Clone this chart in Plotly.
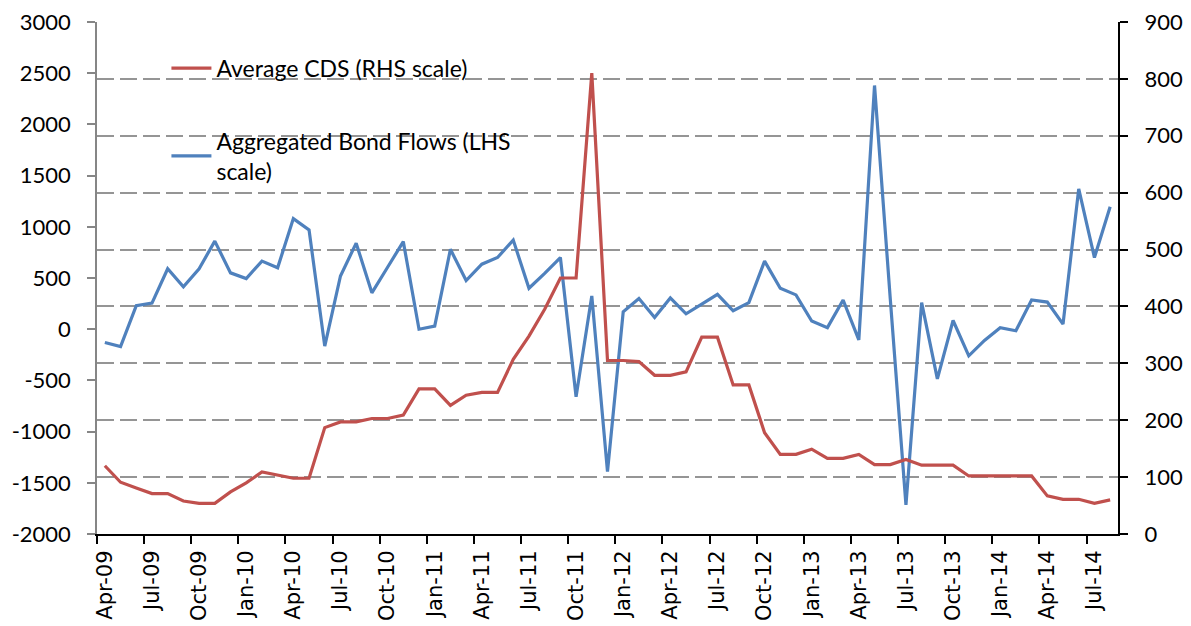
import plotly.graph_objects as go

months = ["Apr-09","May-09","Jun-09","Jul-09","Aug-09","Sep-09","Oct-09","Nov-09","Dec-09",
          "Jan-10","Feb-10","Mar-10","Apr-10","May-10","Jun-10","Jul-10","Aug-10","Sep-10","Oct-10","Nov-10","Dec-10",
          "Jan-11","Feb-11","Mar-11","Apr-11","May-11","Jun-11","Jul-11","Aug-11","Sep-11","Oct-11","Nov-11","Dec-11",
          "Jan-12","Feb-12","Mar-12","Apr-12","May-12","Jun-12","Jul-12","Aug-12","Sep-12","Oct-12","Nov-12","Dec-12",
          "Jan-13","Feb-13","Mar-13","Apr-13","May-13","Jun-13","Jul-13","Aug-13","Sep-13","Oct-13","Nov-13","Dec-13",
          "Jan-14","Feb-14","Mar-14","Apr-14","May-14","Jun-14","Jul-14","Aug-14"]

bond_flows = [-130, -170, 230, 255, 590, 415, 590, 860, 550, 495, 665, 600, 1080, 970, -165, 520,
              840, 355, 605, 855, 0, 30, 780, 475, 635, 700, 870, 400, 545, 700, -660,
              325, -1390, 170, 300, 115, 305, 150, 245, 340, 180, 260, 665, 400, 335, 80,
              15, 285, -105, 2380, 300, -1715, 260, -485, 85, -260, -110, 15, -15, 285, 265,
              50, 1370, 700, 1195]

avg_cds = [120, 91, 81, 71, 71, 58, 54, 54, 74, 90, 109, 103, 98, 98, 187, 197,
           197, 203, 203, 209, 255, 255, 226, 244, 249, 249, 307, 348, 395, 450, 450,
           810, 305, 305, 303, 279, 279, 285, 346, 346, 262, 262, 178, 140, 140, 149,
           133, 133, 140, 122, 122, 131, 121, 121, 121, 102, 102, 102, 102, 102, 67,
           61, 61, 54, 60]

lhs_ticks = [-2000, -1500, -1000, -500, 0, 500, 1000, 1500, 2000, 2500, 3000]
rhs_ticks = [0, 100, 200, 300, 400, 500, 600, 700, 800, 900]

x = list(range(len(months)))
label_idx = x[::3]
boundary_ticks = [i - 0.5 for i in label_idx]

fig = go.Figure()
fig.add_trace(go.Scatter(
    x=x, y=bond_flows, mode="lines", yaxis="y",
    name="Aggregated Bond Flows (LHS<br>scale)",
    line=dict(color="#4F81BD", width=3.2), legendrank=2, legendgroup="b"))
fig.add_trace(go.Scatter(
    x=x, y=avg_cds, mode="lines", yaxis="y2",
    name="Average CDS (RHS scale)",
    line=dict(color="#C0504D", width=3.2), legendrank=1, legendgroup="a"))

fig.update_layout(
    width=1191, height=626,
    margin=dict(l=89, r=81, t=14, b=100, autoexpand=False),
    paper_bgcolor="white", plot_bgcolor="white",
    font=dict(family="Lato", size=23, color="black"),
    showlegend=True,
    legend=dict(x=0.068, y=0.952, xanchor="left", yanchor="top",
                bgcolor="rgba(0,0,0,0)", font=dict(family="Lato", size=23),
                tracegroupgap=40, itemwidth=40),
    xaxis=dict(
        range=[-0.5, len(months) - 0.5], tickmode="array",
        tickvals=label_idx, ticktext=[months[i] for i in label_idx],
        tickangle=-90, ticks="", showgrid=False, zeroline=False,
        showline=True, linecolor="black", linewidth=2,
        ticklabeloverflow="allow", ticklabelstandoff=6,
        tickfont=dict(family="DejaVu Sans", size=21, color="black"),
        minor=dict(tickmode="array", tickvals=boundary_ticks, ticks="outside",
                   ticklen=8, tickwidth=2, tickcolor="black", showgrid=False),
    ),
    yaxis=dict(
        range=[-2000, 3000], tickmode="array", tickvals=lhs_ticks,
        ticktext=[str(v) for v in lhs_ticks],
        showgrid=False, zeroline=False, showline=True,
        linecolor="#868686", linewidth=1.5,
        ticks="outside", ticklen=8, tickcolor="#868686", tickwidth=1.5,
        ticklabelstandoff=12, ticklabeloverflow="allow",
        tickfont=dict(family="Lato", size=22, color="black"),
    ),
    yaxis2=dict(
        range=[0, 900], tickmode="array", tickvals=rhs_ticks,
        ticktext=[str(v) for v in rhs_ticks],
        overlaying="y", side="right",
        showgrid=True, gridcolor="#959595", gridwidth=1.7, griddash="17px,6px",
        zeroline=False, showline=True, linecolor="black", linewidth=2,
        ticks="outside", ticklen=8, tickcolor="black", tickwidth=1.5,
        ticklabelstandoff=12, ticklabeloverflow="allow",
        tickfont=dict(family="Lato", size=22, color="black"),
    ),
)

fig.write_html("out.html")
